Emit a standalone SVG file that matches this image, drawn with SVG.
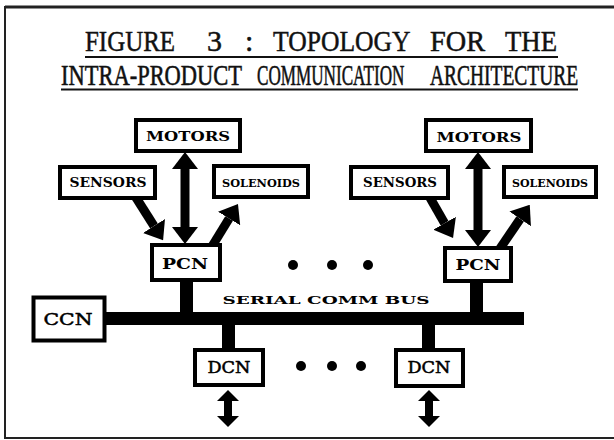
<svg xmlns="http://www.w3.org/2000/svg" width="614" height="440" viewBox="0 0 614 440">
<style>
.box{fill:#fff;stroke:#000;stroke-width:4}
.lbl{font-family:"DejaVu Serif","Liberation Serif",serif;font-weight:bold;fill:#000;text-anchor:middle}
.lbl2{font-family:"DejaVu Serif","Liberation Serif",serif;fill:#000;stroke:#000;stroke-width:0.5;text-anchor:middle}
.t1{font-family:"Liberation Serif","DejaVu Serif",serif;font-size:30px;fill:#111;stroke:#111;stroke-width:0.5}
.t2{font-family:"Liberation Serif","DejaVu Serif",serif;font-size:29px;fill:#111;stroke:#111;stroke-width:0.6}
.arr{stroke:#000;stroke-width:9;fill:none}
.arrs{stroke:#000;stroke-width:8;fill:none}
.bar{fill:#000}
.dot{fill:#000}
</style>
<defs>
<marker id="head" markerUnits="userSpaceOnUse" markerWidth="17" markerHeight="26" viewBox="0 0 17 26" refX="0" refY="13" orient="auto-start-reverse">
<path d="M0,0 L17,13 L0,26 Z" fill="#000"/>
</marker>
<marker id="headS" markerUnits="userSpaceOnUse" markerWidth="11" markerHeight="22" viewBox="0 0 11 22" refX="0" refY="11" orient="auto-start-reverse">
<path d="M0,0 L11,11 L0,22 Z" fill="#000"/>
</marker>
</defs>
<rect x="0" y="0" width="614" height="440" fill="#fff"/>
<g id="frame" stroke="#222" fill="none">
<path d="M5,7 H614" stroke-width="3"/>
<path d="M5,6 V438 H614" stroke-width="2"/>
</g>
<g id="title">
<text class="t1" transform="translate(85,51) scale(0.831,1)">FIGURE</text>
<text class="t1" transform="translate(207,51)">3</text>
<text class="t1" transform="translate(245,51)">:</text>
<text class="t1" transform="translate(273,51) scale(0.854,1)">TOPOLOGY</text>
<text class="t1" transform="translate(430,51) scale(0.943,1)">FOR</text>
<text class="t1" transform="translate(505,51) scale(0.892,1)">THE</text>
<line x1="85" y1="57" x2="558" y2="57" stroke="#111" stroke-width="2"/>
<text class="t2" transform="translate(61,85) scale(0.775,1)">INTRA-PRODUCT</text>
<text class="t2" transform="translate(257,85) scale(0.591,1)">COMMUNICATION</text>
<text class="t2" transform="translate(430,85) scale(0.671,1)">ARCHITECTURE</text>
<line x1="61" y1="89.5" x2="578" y2="89.5" stroke="#111" stroke-width="2"/>
</g>
<g id="connectors">
<rect class="bar" x="105" y="312" width="419" height="13"/>
<rect class="bar" x="180" y="280" width="13" height="33"/>
<rect class="bar" x="470" y="280" width="13" height="33"/>
<rect class="bar" x="222" y="324" width="13" height="26"/>
<rect class="bar" x="422" y="324" width="13" height="26"/>
<line class="arr" x1="185" y1="169" x2="185" y2="227" marker-start="url(#head)" marker-end="url(#head)"/>
<line class="arr" x1="478" y1="169" x2="478" y2="230" marker-start="url(#head)" marker-end="url(#head)"/>
<line class="arr" x1="135" y1="196" x2="154" y2="226" marker-end="url(#head)"/>
<line class="arr" x1="429" y1="196" x2="444.6" y2="223.2" marker-end="url(#head)"/>
<line class="arr" x1="211" y1="248" x2="229.1" y2="218.5" marker-end="url(#head)"/>
<line class="arr" x1="499" y1="250" x2="520.2" y2="218.9" marker-end="url(#head)"/>
<line class="arrs" x1="228" y1="401" x2="228" y2="416" marker-start="url(#headS)" marker-end="url(#headS)"/>
<line class="arrs" x1="429" y1="401" x2="429" y2="416" marker-start="url(#headS)" marker-end="url(#headS)"/>
<text class="lbl" x="326" y="304" font-size="11" textLength="207" lengthAdjust="spacingAndGlyphs">SERIAL COMM BUS</text>
</g>
<g id="motors-left"><rect class="box" x="136" y="120" width="104" height="31"/><text class="lbl" x="188" y="141" font-size="13" textLength="84" lengthAdjust="spacingAndGlyphs">MOTORS</text></g>
<g id="sensors-left"><rect class="box" x="60" y="167" width="95" height="31"/><text class="lbl" x="108" y="187" font-size="12" textLength="77" lengthAdjust="spacingAndGlyphs">SENSORS</text></g>
<g id="solenoids-left"><rect class="box" x="214" y="166" width="94" height="31"/><text class="lbl" x="261" y="187" font-size="11" textLength="78" lengthAdjust="spacingAndGlyphs">SOLENOIDS</text></g>
<g id="pcn-left"><rect class="box" x="152" y="245" width="68" height="35"/><text class="lbl" x="185" y="269" font-size="15" textLength="46" lengthAdjust="spacingAndGlyphs">PCN</text></g>
<g id="motors-right"><rect class="box" x="426" y="120" width="105" height="31"/><text class="lbl" x="479" y="142" font-size="13" textLength="85" lengthAdjust="spacingAndGlyphs">MOTORS</text></g>
<g id="sensors-right"><rect class="box" x="351" y="167" width="97" height="31"/><text class="lbl" x="400" y="187" font-size="12" textLength="74" lengthAdjust="spacingAndGlyphs">SENSORS</text></g>
<g id="solenoids-right"><rect class="box" x="504" y="167" width="92" height="30"/><text class="lbl" x="550" y="187" font-size="11" textLength="76" lengthAdjust="spacingAndGlyphs">SOLENOIDS</text></g>
<g id="pcn-right"><rect class="box" x="445" y="248" width="66" height="33"/><text class="lbl" x="478" y="270" font-size="15" textLength="45" lengthAdjust="spacingAndGlyphs">PCN</text></g>
<g id="ccn"><rect class="box" x="33.5" y="297.5" width="71" height="43" stroke-width="5"/><text class="lbl2" x="68" y="325" font-size="17" textLength="49" lengthAdjust="spacingAndGlyphs">CCN</text></g>
<g id="dcn-left"><rect class="box" x="195" y="350" width="68" height="35"/><text class="lbl2" x="229" y="373" font-size="16" textLength="43" lengthAdjust="spacingAndGlyphs">DCN</text></g>
<g id="dcn-right"><rect class="box" x="396" y="350" width="67" height="36"/><text class="lbl2" x="429" y="373" font-size="16" textLength="43" lengthAdjust="spacingAndGlyphs">DCN</text></g>
<g id="ellipsis-top"><circle class="dot" cx="293" cy="265" r="5"/><circle class="dot" cx="332" cy="265" r="5"/><circle class="dot" cx="368" cy="265" r="5"/></g>
<g id="ellipsis-bottom"><circle class="dot" cx="301" cy="366" r="5"/><circle class="dot" cx="332" cy="366" r="5"/><circle class="dot" cx="361" cy="366" r="5"/></g>
</svg>
